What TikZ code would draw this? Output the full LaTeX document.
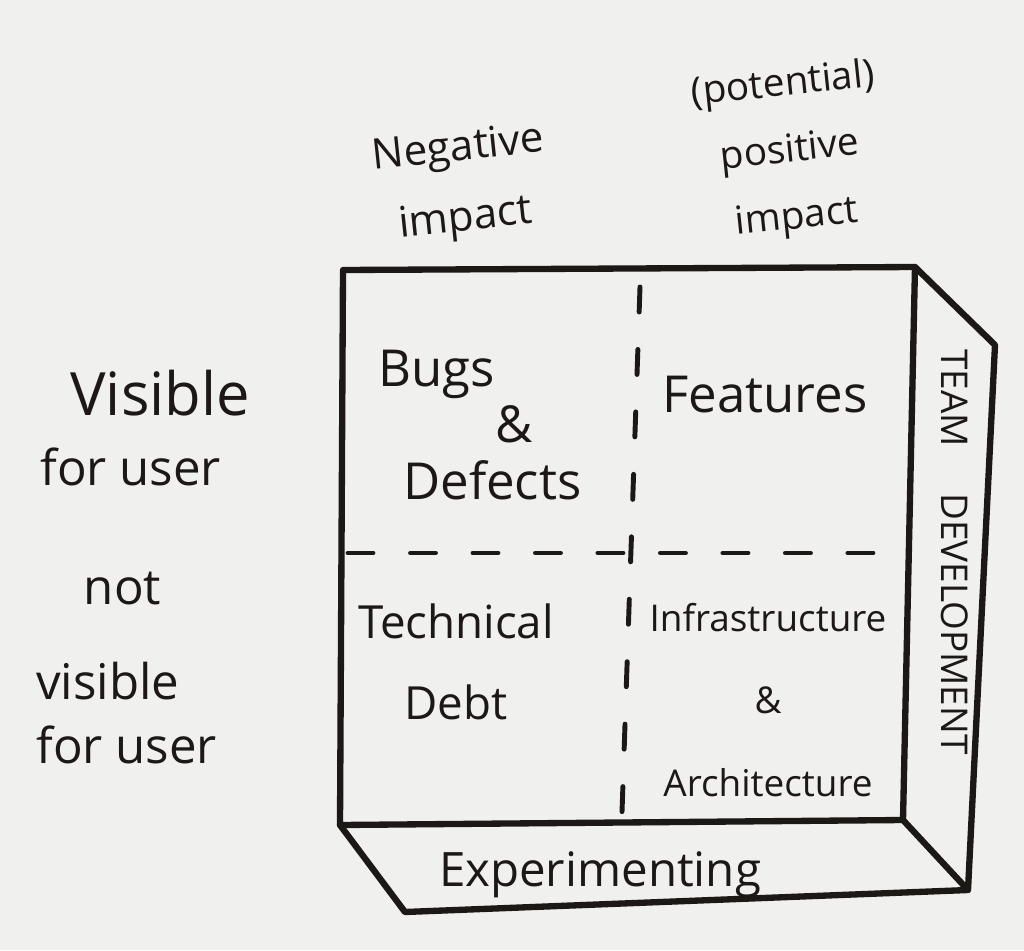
\documentclass[tikz,border=0pt]{standalone}
\usepackage{fontspec}
\setmainfont{Open Sans}
\usepackage{tikz}
\usetikzlibrary{positioning}
\definecolor{ink}{RGB}{28, 24, 22}
\definecolor{paper}{RGB}{240, 240, 238}
\tikzset{pen/.style = {draw = ink, line width = 3.6pt, line join = round, line cap = round}}
\tikzset{midline/.style = {pen, line width = 2.8pt, dash pattern = on 0.5cm off 0.75cm}}
\tikzset{hand/.style = {text = ink, align = center, inner sep = 0, font = \fontsize{24}{34}\selectfont}}

\begin{document}
\begin{tikzpicture}[x = 0.02cm, y = -0.02cm]
      \fill [paper] (0, 0) rectangle (1024, 950);
      \useasboundingbox (0, 0) rectangle (1024, 950);

      % corners of the box
      \coordinate (ftl) at (343, 270);
      \coordinate (ftr) at (915, 267);
      \coordinate (fbr) at (903, 820);
      \coordinate (fbl) at (340, 825);
      \coordinate (rtr) at (995, 345);
      \coordinate (rbr) at (968, 890);
      \coordinate (bbl) at (405, 912);

      \draw [pen] (ftl) -- (ftr) -- (fbr) -- (fbl) -- cycle;
      \draw [pen] (ftr) -- (rtr) -- (rbr) -- (fbr);
      \draw [pen] (fbl) -- (bbl) -- (rbr);

      % quadrant borders
      \coordinate (ml) at (348, 553);
      \coordinate (mr) at (900, 553);
      \coordinate (mt) at (640, 287);
      \coordinate (mb) at (622, 812);
      \draw [midline] (ml) -- (mr);
      \draw [midline] (mt) -- (mb);

      \node [hand, rotate = 6, font = \fontsize{24}{40}\selectfont] (neg) at (462, 185) {Negative\\impact};
      \node [hand, rotate = 6, font = \fontsize{22}{38}\selectfont] (pos) at (790, 152) {(potential)\\positive\\impact};

      \node [hand, align = left, font = \fontsize{28}{40}\selectfont, anchor = west] (vis) at (40, 428) {\hspace*{0.6cm}{\fontsize{34}{40}\selectfont Visible}\\for user};
      \node [hand, align = left, font = \fontsize{28}{36}\selectfont, anchor = west] (notvis) at (36, 668) {\hspace*{0.95cm}not\\[18pt]visible\\for user};

      \node [hand, align = left, font = \fontsize{29}{32}\selectfont, anchor = west] (bugs) at (378, 425) {Bugs\\\hspace*{2.35cm}\&\\\hspace*{0.5cm}Defects};
      \node [hand, font = \fontsize{29}{30}\selectfont] (feat) at (765, 395) {Features};
      \node [hand, font = \fontsize{26}{46}\selectfont] (debt) at (456, 662) {Technical\\Debt};
      \node [hand, font = \fontsize{21}{47}\selectfont] (infra) at (768, 700) {Infrastructure\\\&\\Architecture};

      \node [hand, rotate = -90, font = \fontsize{21}{24}\selectfont] (team) at (955, 552) {TEAM \quad DEVELOPMENT};
      \node [hand, font = \fontsize{27}{30}\selectfont] (exp) at (600, 875) {Experimenting};
    \end{tikzpicture}
\end{document}
